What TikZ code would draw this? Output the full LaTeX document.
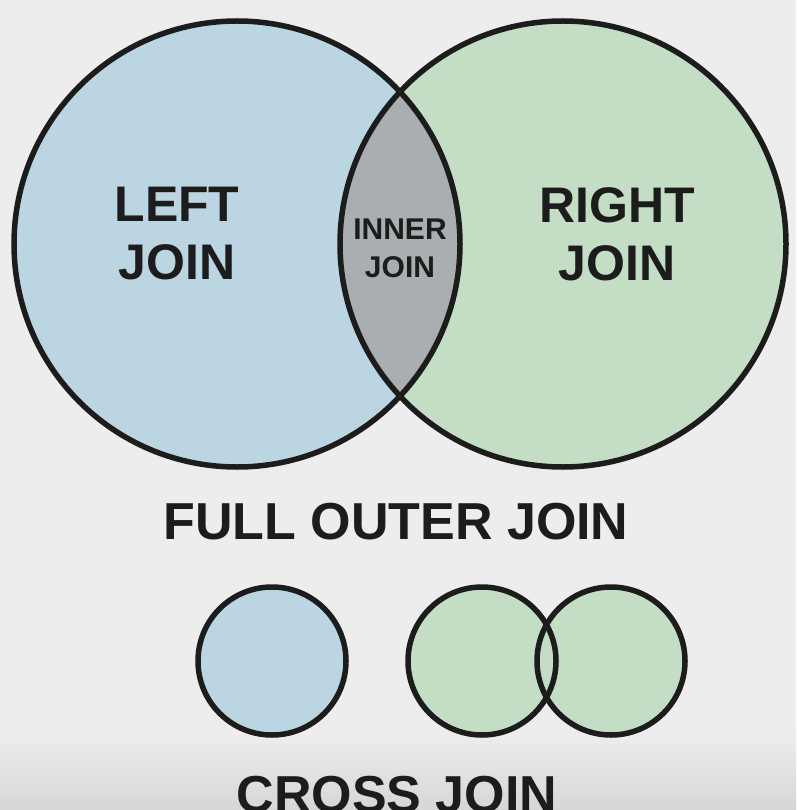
\documentclass[tikz,border=0pt]{standalone}
\definecolor{pagebg}{HTML}{EDEDED}
\definecolor{pagebgdark}{HTML}{D6D6D6}
\definecolor{leftblue}{HTML}{BCD5E3}
\definecolor{rightgreen}{HTML}{C4DEC6}
\definecolor{innergray}{HTML}{A9AEB1}
\definecolor{inkdark}{HTML}{1C1C1C}
\usepackage{fontspec}
\setmainfont{Liberation Sans}
\usepackage{tikz}
\usetikzlibrary{positioning}
\tikzset{
  ring/.style={draw=inkdark, line width=5.5pt},
  biglabel/.style={text=inkdark, font=\fontsize{50}{58}\selectfont\bfseries, align=center, inner sep=0pt},
  smalllabel/.style={text=inkdark, font=\fontsize{30}{38}\selectfont\bfseries, align=center, inner sep=0pt},
  titlelabel/.style={text=inkdark, font=\fontsize{52}{60}\selectfont\bfseries, inner sep=0pt}
}
\begin{document}
\begin{tikzpicture}[x=1pt,y=-1pt]
        \fill[pagebg] (0,0) rectangle (796,810);
        \shade[top color=pagebg, bottom color=pagebgdark] (0,735) rectangle (796,810);
        \useasboundingbox (0,0) rectangle (796,810);
        % big venn
        \coordinate (lc) at (237,244);
        \coordinate (rc) at (563,244);
        \fill[leftblue] (lc) circle[radius=223];
        \fill[rightgreen] (rc) circle[radius=223];
        \begin{scope}
          \clip (lc) circle[radius=223];
          \fill[innergray] (rc) circle[radius=223];
        \end{scope}
        \draw[ring] (lc) circle[radius=223];
        \draw[ring] (rc) circle[radius=223];
        \node[biglabel] (l) at (177,234) {LEFT\\JOIN};
        \node[biglabel] (r) at (617,234) {RIGHT\\JOIN};
        \node[smalllabel] (i) at (400,248) {INNER\\JOIN};
        \node[titlelabel] (f) at (396,522) {FULL OUTER JOIN};
        % small circles
        \coordinate (sa) at (272,661);
        \coordinate (sb) at (482,661);
        \coordinate (sc) at (611,661);
        \fill[leftblue] (sa) circle[radius=74];
        \fill[rightgreen] (sb) circle[radius=74];
        \fill[rightgreen] (sc) circle[radius=74];
        \draw[ring] (sa) circle[radius=74];
        \draw[ring] (sb) circle[radius=74];
        \draw[ring] (sc) circle[radius=74];
        \node[titlelabel] (c) at (397,795) {CROSS JOIN};
      \end{tikzpicture}
\end{document}
